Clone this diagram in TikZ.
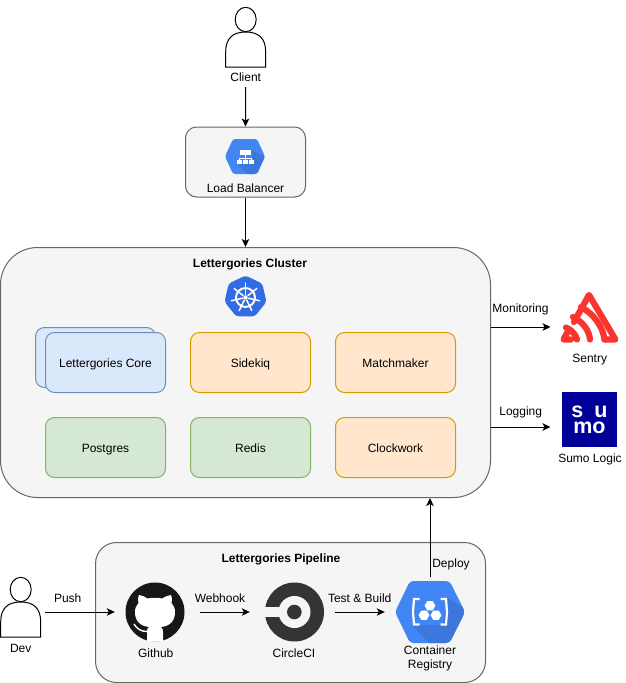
\documentclass[tikz,border=0pt]{standalone}
\usepackage{fontspec}
\setmainfont{Liberation Sans}
\usetikzlibrary{arrows.meta,shapes.geometric}
\definecolor{panelfill}{HTML}{F5F5F5}
\definecolor{panelline}{HTML}{666666}
\definecolor{bluefill}{HTML}{DAE8FC}
\definecolor{blueline}{HTML}{6C8EBF}
\definecolor{orangefill}{HTML}{FFE6CC}
\definecolor{orangeline}{HTML}{D79B00}
\definecolor{greenfill}{HTML}{D5E8D4}
\definecolor{greenline}{HTML}{82B366}
\definecolor{gcpblue}{HTML}{4285F4}
\definecolor{gcpshade}{HTML}{3E77DC}
\definecolor{k8sblue}{HTML}{326CE5}
\definecolor{sentryred}{HTML}{FB3430}
\definecolor{sumoblue}{HTML}{000099}
\definecolor{ghblack}{HTML}{181616}
\definecolor{ccigrey}{HTML}{343434}
\tikzset{
  txt/.style={font=\fontsize{12}{14}\selectfont,inner sep=0pt,text height=9pt,text depth=0pt,text=black},
  multitxt/.style={font=\fontsize{12}{13.6}\selectfont,inner sep=0pt,align=center,text=black},
  boldtxt/.style={txt,font=\fontsize{12}{14}\selectfont\bfseries},
  panel/.style={draw=panelline,fill=panelfill,line width=1pt,inner sep=0pt,rectangle},
  tile/.style={rectangle,line width=1pt,rounded corners=9pt,minimum width=120pt,minimum height=60pt,inner sep=0pt,font=\fontsize{12}{14}\selectfont,text height=9pt,text depth=0pt},
  bluetile/.style={tile,draw=blueline,fill=bluefill},
  orangetile/.style={tile,draw=orangeline,fill=orangefill},
  greentile/.style={tile,draw=greenline,fill=greenfill},
  slot/.style={rectangle,inner sep=0pt},
  flow/.style={draw=black,line width=1pt,-{Stealth[length=8pt,width=7.5pt,inset=2pt]}},
  person/.style={draw=black,fill=white,line width=1pt},
}
\begin{document}
\begin{tikzpicture}[x=1pt,y=-1pt]
\useasboundingbox (0,0) rectangle (626,683);

% panels
\node[panel,rounded corners=11pt,minimum width=120pt,minimum height=70pt] (lb) at (245.5,162) {};
\node[panel,rounded corners=37pt,minimum width=490pt,minimum height=250pt] (cluster) at (245.5,372.5) {};
\node[panel,rounded corners=21pt,minimum width=390pt,minimum height=140pt] (pipeline) at (290.5,612.5) {};
\node[boldtxt] (clustertitle) at (250,263) {Lettergories Cluster};
\node[boldtxt] (pipelinetitle) at (281,557.5) {Lettergories Pipeline};

% client
\draw[person] (225.7,67) -- (225.7,52) .. controls (225.7,38) and (233,32) .. (245.7,32) .. controls (258.4,32) and (265.7,38) .. (265.7,52) -- (265.7,67) -- cycle;
\draw[person] (245.7,19.5) ellipse [x radius=10.5, y radius=12.2];
\node[txt,minimum height=20pt] (client) at (245.7,77) {Client};

% dev
\draw[person] (0.7,637) -- (0.7,622) .. controls (0.7,608) and (8,602) .. (20.7,602) .. controls (33.4,602) and (40.7,608) .. (40.7,622) -- (40.7,637) -- cycle;
\draw[person] (20.7,589.5) ellipse [x radius=10.5, y radius=12.2];
\node[slot,minimum width=48.6pt,minimum height=40pt] (dev) at (20.7,612) {};
\node[txt] (devlabel) at (20.7,647.7) {Dev};

% load balancer icon
\begin{scope}
  \path[clip,rounded corners=2.5pt] (233,139) -- (257,139) -- (265,156.5) -- (257,174) -- (233,174) -- (225,156.5) -- cycle;
  \fill[gcpblue] (220,135) rectangle (270,178);
  \fill[gcpshade] (237,163.5) -- (254,163.5) -- (251,150) -- (268,158) -- (258,178) -- (252,178) -- cycle;
\end{scope}
\fill[white] (240,150) rectangle (250.5,155);
\fill[white] (244.7,155) rectangle (245.8,158.5);
\fill[white] (239,158) rectangle (251.7,159);
\fill[white] (239,159) rectangle (240,160);
\fill[white] (250.7,159) rectangle (251.7,160);
\fill[white] (244.7,159) rectangle (245.8,160);
\fill[white] (237,160) rectangle (242,164);
\fill[white] (243,160) rectangle (247.5,164);
\fill[white] (249,160) rectangle (254,164);
\node[txt] (lblabel) at (245.5,187.5) {Load Balancer};

% kubernetes icon
\node[regular polygon,regular polygon sides=7,minimum size=43pt,inner sep=0pt,fill=k8sblue,rounded corners=3pt] (k8s) at (245.5,297) {};
\draw[white,line width=1.9pt] (245.5,297.5) circle [radius=9.5];
\fill[white] (245.5,297.5) circle [radius=2.2];
\foreach \a in {-90,-38.6,12.9,64.3,115.7,167.1,218.6}
  \draw[white,line width=1.5pt,line cap=round] (245.5,297.5) ++(\a:3) -- ++(\a:11.5);

% service tiles
\node[bluetile] (coreback) at (95.5,357.5) {};
\node[bluetile] (core) at (105.5,362.5) {Lettergories Core};
\node[orangetile] (sidekiq) at (250.5,362.5) {Sidekiq};
\node[orangetile] (matchmaker) at (395.5,362.5) {Matchmaker};
\node[greentile] (postgres) at (105.5,447.5) {Postgres};
\node[greentile] (redis) at (250.5,447.5) {Redis};
\node[orangetile] (clockwork) at (395.5,447.5) {Clockwork};

% sentry logo
\begin{scope}[line join=round,line cap=round]
  \tikzset{every path/.style={draw=sentryred,line width=6.2pt}}
  \draw (571,339.5) -- (563.5,339.5) -- (567.5,332);
  \draw (574,322) -- (589,295) -- (615.5,339.5) -- (604.5,339.5);
  \draw (604.5,339.5) .. controls (603,327) and (594,314) .. (581,307);
  \draw (590,339.5) .. controls (589,330) and (583,322) .. (573,317);
  \draw (577,339.5) .. controls (576,335) and (572,330) .. (566,327.5);
\end{scope}
\node[slot,minimum width=59pt,minimum height=52pt] (sentry) at (589.5,317) {};
\node[txt] (sentrylabel) at (589.7,357.7) {Sentry};

% sumo logic logo
\node[rectangle,fill=sumoblue,minimum width=55pt,minimum height=55pt,inner sep=0pt,
  font=\fontsize{21.5}{16.3}\selectfont\bfseries,text=white,align=center] (sumo) at (589.5,419.5) {s\hspace{11pt}u\\mo};
\node[txt] (sumolabel) at (590,457.7) {Sumo Logic};

% github logo
\fill[ghblack] (155,612) circle [radius=29.5];
\fill[white] (147,641.5) -- (147,631) .. controls (147,629) and (147.5,628) .. (149,627)
  .. controls (140,626) and (135,621) .. (135,612) .. controls (135,608) and (136.5,605) .. (138.5,603)
  .. controls (137.5,600) and (138,597) .. (139,595) .. controls (142,595) and (145,597) .. (147.5,598.5)
  .. controls (152,597.5) and (158,597.5) .. (162,598.5) .. controls (165,597) and (168,595) .. (171,595)
  .. controls (172,597) and (172.5,600) .. (171.5,603) .. controls (173.5,605) and (175,608) .. (175,612)
  .. controls (175,621) and (170,626) .. (161,627) .. controls (162.5,628) and (163,630) .. (163,632)
  -- (163,641.5) -- cycle;
\draw[white,line width=1.4pt] (134,624) .. controls (137,629) and (141,631.5) .. (147,631.5);
\node[slot,minimum width=85pt,minimum height=60pt] (github) at (157.5,612) {};
\node[txt] (githublabel) at (155.7,652.7) {Github};

% circleci logo
\fill[ccigrey] (294.5,612) circle [radius=29.5];
\fill[panelfill] (294.5,612) circle [radius=16];
\fill[panelfill] (263,607) rectangle (284,617);
\fill[ccigrey] (294.3,612) circle [radius=7.3];
\node[slot,minimum width=85pt,minimum height=60pt] (circleci) at (292.5,612) {};
\node[txt] (circlecilabel) at (294,652.7) {CircleCI};

% container registry logo
\begin{scope}
  \path[clip,rounded corners=3.5pt] (410,581) -- (449.5,581) -- (465,612) -- (449.5,643) -- (410,643) -- (395,612) -- cycle;
  \fill[gcpblue] (390,575) rectangle (470,650);
  \fill[gcpshade] (412,625) -- (443,625) -- (447,597) -- (470,612) -- (452,650) -- (436,650) -- cycle;
\end{scope}
\draw[white,line width=2.2pt] (419.5,599) -- (414,599) -- (413,612) -- (414,624.5) -- (419.5,624.5);
\draw[white,line width=2.2pt] (440.5,599) -- (446,599) -- (447,612) -- (446,624.5) -- (440.5,624.5);
\foreach \cx/\cy in {430/605.7,424/615.2,436/615.2}
  \fill[white] (\cx,\cy) ++(0:5.4) -- ++(120:5.4) -- ++(180:5.4) -- ++(240:5.4) -- ++(300:5.4) -- ++(0:5.4) -- cycle;
\node[slot,minimum width=90pt,minimum height=70pt] (registry) at (430,612) {};
\node[multitxt] (registrylabel) at (430,658.5) {Container\\Registry};

% free ends
\coordinate (monitorend) at (550.5,327);
\coordinate (loggingend) at (550.5,427);

% connectors
\draw[flow] (client.south) -- (lb.north);
\draw[flow] (lb.south) -- (cluster.north -| lb.south);
\draw[flow] (cluster.east |- monitorend) -- (monitorend);
\draw[flow] (cluster.east |- loggingend) -- (loggingend);
\draw[flow] (dev.east) -- (github.west);
\draw[flow] (github.east) -- (circleci.west);
\draw[flow] (circleci.east) -- (registry.west);
\draw[flow] (registry.north) -- (registry.north |- cluster.south);

% connector labels
\node[txt] (monitorlabel) at (520.5,307.7) {Monitoring};
\node[txt] (logginglabel) at (520.7,411) {Logging};
\node[txt] (pushlabel) at (67.7,597.7) {Push};
\node[txt] (webhooklabel) at (220,597.7) {Webhook};
\node[txt] (buildlabel) at (359.7,597.7) {Test \& Build};
\node[txt] (deploylabel) at (451,562.7) {Deploy};
\end{tikzpicture}
\end{document}
